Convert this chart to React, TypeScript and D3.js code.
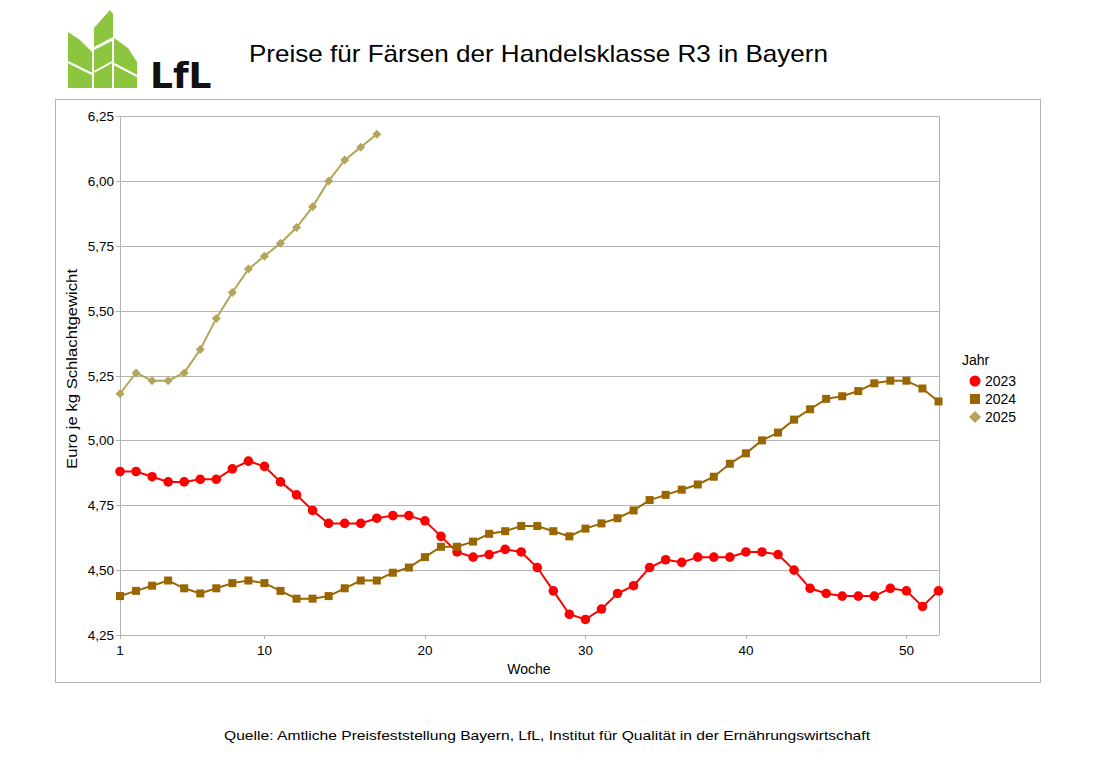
import React from "react";
import * as d3 from "d3";

const weeks = d3.range(1, 53);
const values2023 = [4.88, 4.88, 4.86, 4.84, 4.84, 4.85, 4.85, 4.89, 4.92, 4.90, 4.84, 4.79, 4.73, 4.68, 4.68, 4.68, 4.70, 4.71, 4.71, 4.69, 4.63, 4.57, 4.55, 4.56, 4.58, 4.57, 4.51, 4.42, 4.33, 4.31, 4.35, 4.41, 4.44, 4.51, 4.54, 4.53, 4.55, 4.55, 4.55, 4.57, 4.57, 4.56, 4.50, 4.43, 4.41, 4.40, 4.40, 4.40, 4.43, 4.42, 4.36, 4.42];
const values2024 = [4.40, 4.42, 4.44, 4.46, 4.43, 4.41, 4.43, 4.45, 4.46, 4.45, 4.42, 4.39, 4.39, 4.40, 4.43, 4.46, 4.46, 4.49, 4.51, 4.55, 4.59, 4.59, 4.61, 4.64, 4.65, 4.67, 4.67, 4.65, 4.63, 4.66, 4.68, 4.70, 4.73, 4.77, 4.79, 4.81, 4.83, 4.86, 4.91, 4.95, 5.00, 5.03, 5.08, 5.12, 5.16, 5.17, 5.19, 5.22, 5.23, 5.23, 5.20, 5.15];
const values2025 = [5.18, 5.26, 5.23, 5.23, 5.26, 5.35, 5.47, 5.57, 5.66, 5.71, 5.76, 5.82, 5.90, 6.00, 6.08, 6.13, 6.18];
const yTicks = [4.25, 4.5, 4.75, 5.0, 5.25, 5.5, 5.75, 6.0, 6.25];
const xTicks = [1, 10, 20, 30, 40, 50];
const seriesNames = ["2023", "2024", "2025"];

const FONT = "'Liberation Sans', Arial, sans-serif";

export default function App() {
  const x = d3.scaleLinear().domain([1, 52]).range([120, 938.5]);
  const y = d3.scaleLinear().domain([4.25, 6.25]).range([635, 116]);
  const fmt = (v: number) => d3.format(".2f")(v).replace(".", ",");

  const series = [
    { name: seriesNames[0], color: "#ff0000", values: values2023, shape: "circle" },
    { name: seriesNames[1], color: "#996600", values: values2024, shape: "square" },
    { name: seriesNames[2], color: "#b3a65a", values: values2025, shape: "diamond" },
  ];

  const line = d3
    .line<number>()
    .x((_, i) => x(weeks[i]))
    .y((d) => y(d));

  const marker = (shape: string, cx: number, cy: number, color: string, key: string, big = false) => {
    if (shape === "circle") return <circle key={key} cx={cx} cy={cy} r={big ? 5.5 : 4.8} fill={color} />;
    if (shape === "square") {
      const s = big ? 5 : 4;
      return <rect key={key} x={cx - s} y={cy - s} width={2 * s} height={2 * s} fill={color} />;
    }
    const s = big ? 6 : 4.5;
    return <path key={key} d={`M${cx},${cy - s}L${cx + s},${cy}L${cx},${cy + s}L${cx - s},${cy}Z`} fill={color} />;
  };

  const green = "#8cc63e";

  return (
    <svg width={1096} height={762} style={{ position: "absolute", left: 0, top: 0, background: "#fff" }}>
      <rect x={0} y={0} width={1096} height={762} fill="#fff" />
      {/* Logo */}
      <g fill={green}>
        <path d="M94,28 L110,10 L113,14 L113,37 L94,47 Z" />
        <path d="M68,32 L80,40 L92,52 L92,88 L68,88 Z" />
        <path d="M94,50 L112,41 L112,88 L94,88 Z" />
        <path d="M114,38 L128,48 L137,62 L137,88 L114,88 Z" />
      </g>
      <g stroke="#fff" strokeWidth={2}>
        <line x1={68} y1={62} x2={92} y2={74} />
        <line x1={94} y1={72} x2={112} y2={62} />
        <line x1={114} y1={64} x2={137} y2={76} />
      </g>
      <text x={150} y={88} fontFamily="'DejaVu Sans', sans-serif" fontWeight="bold" fontSize={36} fill="#111">LfL</text>

      {/* Title */}
      <text x={538.5} y={62} textAnchor="middle" fontFamily={FONT} fontSize={24} fill="#000" textLength={579} lengthAdjust="spacingAndGlyphs">
        Preise für Färsen der Handelsklasse R3 in Bayern
      </text>

      {/* Frame */}
      <rect x={55.5} y={99.5} width={985} height={583} fill="none" stroke="#b3b3b3" />

      {/* Gridlines */}
      {yTicks.map((t) => (
        <line key={"g" + t} x1={120} x2={939} y1={Math.round(y(t)) + 0.5} y2={Math.round(y(t)) + 0.5} stroke="#b3b3b3" />
      ))}
      <line x1={939.5} x2={939.5} y1={116} y2={635} stroke="#b3b3b3" />
      <line x1={120.5} x2={120.5} y1={116} y2={636} stroke="#b3b3b3" />

      {/* Y ticks */}
      {yTicks.map((t) => (
        <g key={"yt" + t}>
          <line x1={116} x2={120} y1={Math.round(y(t)) + 0.5} y2={Math.round(y(t)) + 0.5} stroke="#b3b3b3" />
          <text x={114} y={y(t) + 5} textAnchor="end" fontFamily={FONT} fontSize={13.5} fill="#000">
            {fmt(t)}
          </text>
        </g>
      ))}
      {/* X ticks */}
      {xTicks.map((t) => (
        <g key={"xt" + t}>
          <line x1={Math.round(x(t)) + 0.5} x2={Math.round(x(t)) + 0.5} y1={635} y2={639} stroke="#b3b3b3" />
          <text x={x(t)} y={655} textAnchor="middle" fontFamily={FONT} fontSize={13.5} fill="#000">
            {t}
          </text>
        </g>
      ))}
      <text x={529} y={674} textAnchor="middle" fontFamily={FONT} fontSize={14} fill="#000">Woche</text>
      <text
        transform={`translate(77,369) rotate(-90)`}
        textAnchor="middle"
        fontFamily={FONT}
        fontSize={14}
        fill="#000"
        textLength={200}
        lengthAdjust="spacingAndGlyphs"
      >
        Euro je kg Schlachtgewicht
      </text>

      {/* Series */}
      {series.map((s) => (
        <g key={s.name}>
          <path d={line(s.values) || ""} fill="none" stroke={s.color} strokeWidth={2} />
          {s.values.map((v, i) => marker(s.shape, x(weeks[i]), y(v), s.color, s.name + i))}
        </g>
      ))}

      {/* Legend */}
      <text x={962} y={365} fontFamily={FONT} fontSize={14} fill="#000">Jahr</text>
      {series.map((s, i) => (
        <g key={"l" + s.name}>
          {marker(s.shape, 975, 381 + i * 18, s.color, "lm" + i, true)}
          <text x={985} y={386 + i * 18} fontFamily={FONT} fontSize={14} fill="#000">{s.name}</text>
        </g>
      ))}

      {/* Footnote */}
      <text x={547} y={740} textAnchor="middle" fontFamily={FONT} fontSize={13.5} fill="#000" textLength={646} lengthAdjust="spacingAndGlyphs">
        Quelle: Amtliche Preisfeststellung Bayern, LfL, Institut für Qualität in der Ernährungswirtschaft
      </text>
    </svg>
  );
}
